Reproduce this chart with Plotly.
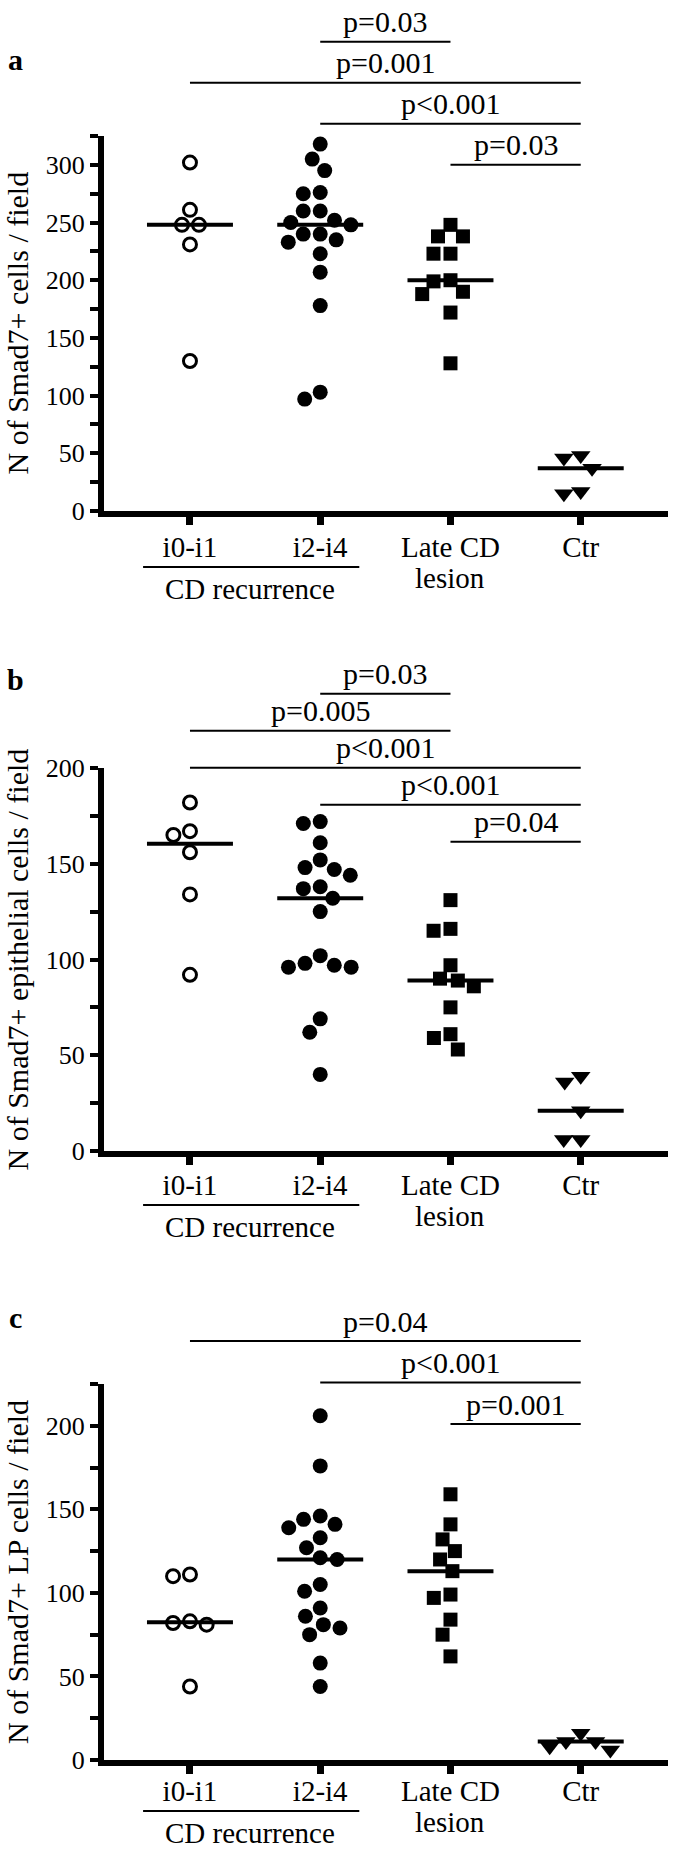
import numpy as np
import plotly.graph_objects as go

W, H = 685, 1852
SERIF = "Liberation Serif"

groups = ["i0-i1", "i2-i4", "Late CD<br>lesion", "Ctr"]

# panel a - N of Smad7+ cells / field
a_i01 = [302, 261, 248, 248, 231, 130]
a_i24 = [318, 305, 295, 276, 275, 260, 260, 252, 250, 248, 240, 240, 235, 233, 223, 207, 178, 103, 97]
a_late = [248, 238, 238, 223, 223, 200, 199, 190, 188, 172, 128]
a_ctr = [48, 46, 37, 17, 15]
a_pvals = [(1, 2, "p=0.03"), (0, 3, "p=0.001"), (1, 3, "p<0.001"), (2, 3, "p=0.03")]

# panel b - N of Smad7+ epithelial cells / field
b_i01 = [182, 167, 165, 156, 134, 92]
b_i24 = [172, 171, 161, 152, 148, 147, 144, 138, 137, 132, 125, 102, 98, 97, 96, 96, 69, 62, 40]
b_late = [131, 116, 115, 97, 90, 89, 86, 75, 61, 59, 53]
b_ctr = [39, 36, 21, 6, 6]
b_pvals = [(1, 2, "p=0.03"), (0, 2, "p=0.005"), (0, 3, "p<0.001"), (1, 3, "p<0.001"), (2, 3, "p=0.04")]

# panel c - N of Smad7+ LP cells / field
c_i01 = [111, 110, 83, 82, 81, 44]
c_i24 = [206, 176, 146, 144, 141, 139, 133, 127, 121, 120, 105, 101, 91, 86, 81, 79, 75, 58, 44]
c_late = [159, 141, 132, 125, 120, 113, 99, 97, 84, 75, 62]
c_ctr = [16, 11, 11, 8, 6]
c_pvals = [(0, 3, "p=0.04"), (1, 3, "p<0.001"), (2, 3, "p=0.001")]

# layout per panel (pixel positions), lab = shift of everything under the x axis
panels = [
    dict(letter="a", title="N of Smad7+ cells / field", data=[a_i01, a_i24, a_late, a_ctr],
         pvals=a_pvals, ymax=325, bottom=511, top=136, bar0=300, step=41, letter_y=59, lab=0),
    dict(letter="b", title="N of Smad7+ epithelial cells / field", data=[b_i01, b_i24, b_late, b_ctr],
         pvals=b_pvals, ymax=200, bottom=1151, top=768, bar0=161.5, step=37, letter_y=679, lab=-2),
    dict(letter="c", title="N of Smad7+ LP cells / field", data=[c_i01, c_i24, c_late, c_ctr],
         pvals=c_pvals, ymax=225, bottom=1760, top=1384, bar0=201, step=41.5, letter_y=1317, lab=-5),
]

# marker style for each group: symbol, fill, size, outline width
styles = [("circle", "white", 13, 3), ("circle", "black", 15, 0),
          ("square", "black", 14, 0), ("triangle-down", "black", 17, 0)]

X_LEFT, X_RIGHT = 104, 668
XR = [-0.66, 3.67]
PX_X = (X_RIGHT - X_LEFT) / (XR[1] - XR[0])

# first line of each group name goes on the axis, a second line (if any) sits just below it
tick_first = [g.split("<br>")[0] for g in groups]
tick_second = [g.split("<br>")[1] if "<br>" in g else "" for g in groups]


def swarm(vals, py, d=17.0):
    """simple beeswarm: horizontal offsets (in category units) so markers don't overlap"""
    placed = []
    xs = [0.0] * len(vals)
    order = sorted(range(len(vals)), key=lambda i: -vals[i])
    for i in order:
        y = vals[i] * py
        cands = [0.0]
        for xj, yj in placed:
            dy = abs(y - yj)
            if dy < d:
                dx = np.sqrt(d * d - dy * dy)
                cands += [xj - dx, xj + dx]
        ok = [c for c in cands
              if all((c - xj) ** 2 + (y - yj) ** 2 >= d * d - 1e-6 for xj, yj in placed)]
        best = min(ok, key=lambda c: (abs(c), c))
        placed.append((best, y))
        xs[i] = best / PX_X
    return xs


def ypaper(px):
    return 1 - px / H


fig = go.Figure()
shapes, annos = [], []

for k, p in enumerate(panels):
    sfx = "" if k == 0 else str(k + 1)
    xa, ya = "x" + sfx, "y" + sfx
    py = (p["bottom"] - p["top"]) / p["ymax"]
    lab = p["lab"]

    for g, vals in enumerate(p["data"]):
        sym, fill, size, lw = styles[g]
        offs = swarm(vals, py)
        fig.add_trace(go.Scatter(
            x=[g + o for o in offs], y=vals, mode="markers", xaxis=xa, yaxis=ya,
            marker=dict(symbol=sym, color=fill, size=size, line=dict(color="black", width=lw)),
            cliponaxis=False, showlegend=False, hoverinfo="y"))
        med = float(np.median(vals))
        fig.add_trace(go.Scatter(
            x=[g - 0.33, g + 0.33], y=[med, med], mode="lines", xaxis=xa, yaxis=ya,
            line=dict(color="black", width=4), cliponaxis=False, showlegend=False, hoverinfo="skip"))

    fig.update_layout(**{
        "xaxis" + sfx: dict(domain=[X_LEFT / W, X_RIGHT / W], anchor=ya, range=XR,
                            tickvals=[0, 1, 2, 3], ticktext=tick_first, ticks="outside", ticklen=8,
                            tickwidth=7, tickcolor="black", showline=True, linewidth=6,
                            linecolor="black", showgrid=False, zeroline=False, fixedrange=True,
                            automargin=False, ticklabelstandoff=-3 + lab,
                            tickfont=dict(family=SERIF, size=29, color="black")),
        "yaxis" + sfx: dict(domain=[ypaper(p["bottom"]), ypaper(p["top"])], anchor=xa,
                            range=[0, p["ymax"]], tick0=0, dtick=50, ticks="outside", ticklen=8,
                            tickwidth=4, tickcolor="black", showline=True, linewidth=6,
                            linecolor="black", showgrid=False, zeroline=False, automargin=False,
                            fixedrange=True,
                            tickfont=dict(family=SERIF, size=26, color="black"),
                            minor=dict(dtick=25, ticks="outside", ticklen=8, tickwidth=4,
                                       tickcolor="black")),
    })

    for g, txt in enumerate(tick_second):
        if txt:
            annos.append(dict(x=g, y=ypaper(p["bottom"] + 67 + lab), xref=xa, yref="paper", text=txt,
                              showarrow=False, yanchor="middle",
                              font=dict(family=SERIF, size=29, color="black")))

    # significance bars
    base_px = p["bottom"] - p["bar0"] * py
    n = len(p["pvals"])
    for lvl, (i, j, label) in enumerate(p["pvals"]):
        ypx = base_px - (n - 1 - lvl) * p["step"]
        shapes.append(dict(type="line", xref=xa, yref="paper", x0=i, x1=j,
                           y0=ypaper(ypx), y1=ypaper(ypx), line=dict(color="black", width=2)))
        annos.append(dict(x=(i + j) / 2, y=ypaper(ypx - 20), xref=xa, yref="paper", text=label,
                          showarrow=False, yanchor="middle",
                          font=dict(family=SERIF, size=30, color="black")))

    # CD recurrence grouping
    shapes.append(dict(type="line", xref=xa, yref="paper", x0=-0.36, x1=1.3,
                       y0=ypaper(p["bottom"] + 56 + lab), y1=ypaper(p["bottom"] + 56 + lab),
                       line=dict(color="black", width=2)))
    annos.append(dict(x=0.46, y=ypaper(p["bottom"] + 78 + lab), xref=xa, yref="paper",
                      text="CD recurrence", showarrow=False, yanchor="middle",
                      font=dict(family=SERIF, size=29, color="black")))

    # y title and panel letter
    annos.append(dict(x=17 / W, y=ypaper((p["bottom"] + p["top"]) / 2), xref="paper", yref="paper",
                      text=p["title"], textangle=-90, showarrow=False,
                      xanchor="center", yanchor="middle",
                      font=dict(family=SERIF, size=30, color="black")))
    annos.append(dict(x=15 / W, y=ypaper(p["letter_y"]), xref="paper", yref="paper",
                      text="<b>" + p["letter"] + "</b>", showarrow=False,
                      xanchor="center", yanchor="middle",
                      font=dict(family=SERIF, size=30, color="black")))

fig.update_layout(width=W, height=H, margin=dict(l=0, r=0, t=0, b=0, pad=0, autoexpand=False),
                  paper_bgcolor="white", plot_bgcolor="white",
                  shapes=shapes, annotations=annos, showlegend=False)

fig.write_html("out.html", config={"displayModeBar": False},
               post_script="document.body.style.margin='0px';")
